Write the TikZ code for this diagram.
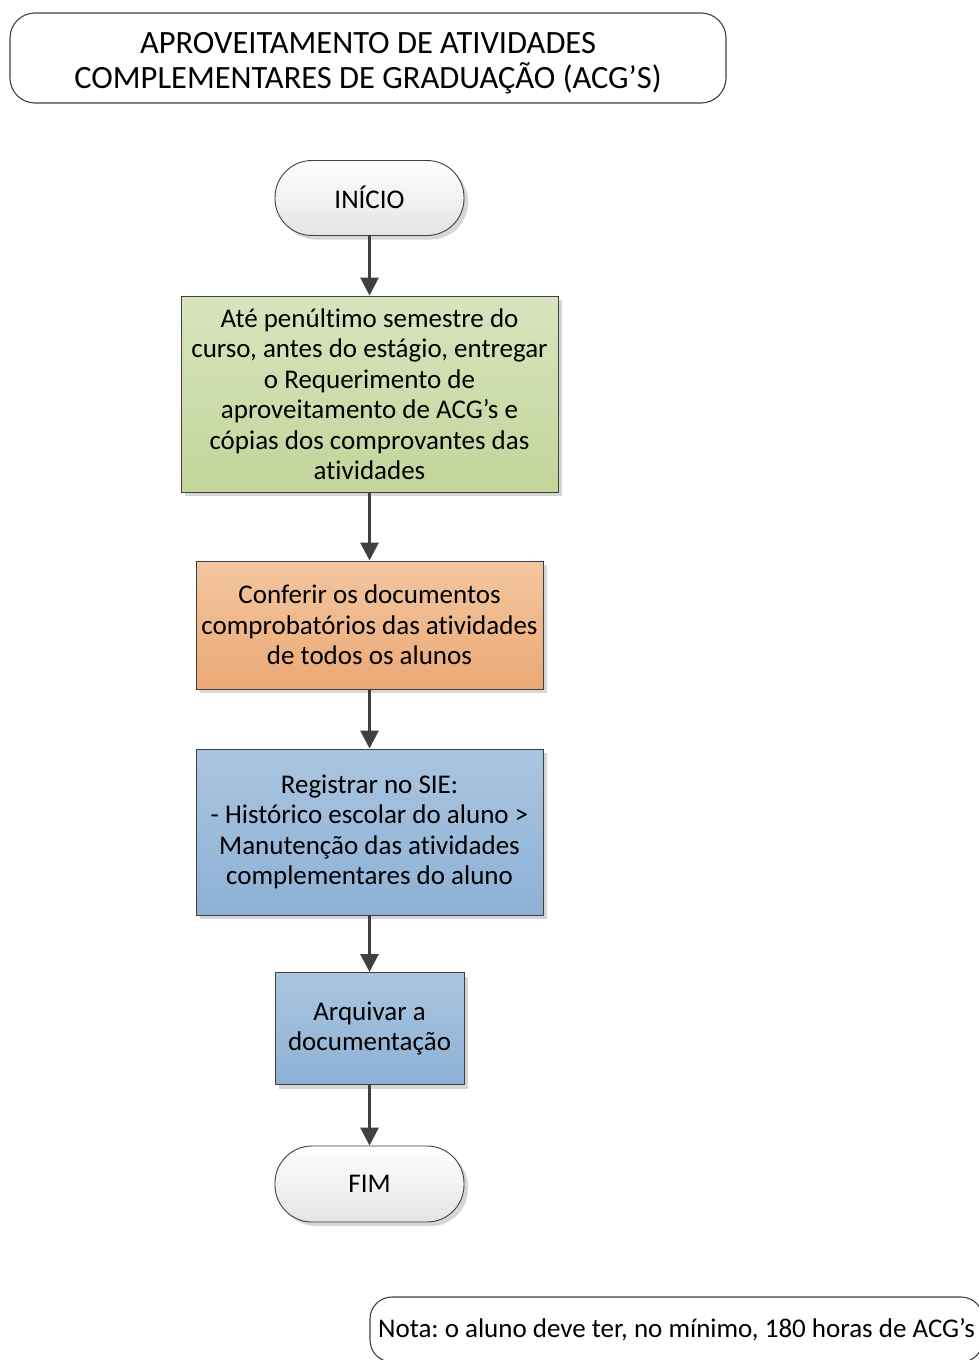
\documentclass[tikz,border=0pt]{standalone}
\usepackage{fontspec}
\setmainfont{Carlito}[Ligatures={NoCommon,NoContextual}, Contextuals=NoAlternate]
\usetikzlibrary{arrows.meta,shadows}
\frenchspacing

\definecolor{edgegray}{HTML}{404040}
\definecolor{greentop}{HTML}{D8E4BE}
\definecolor{greenbot}{HTML}{C2D59A}
\definecolor{orangetop}{HTML}{F3C6A0}
\definecolor{orangebot}{HTML}{EBA976}
\definecolor{bluetop}{HTML}{AAC5E0}
\definecolor{bluebot}{HTML}{8DB1D5}
\definecolor{termbot}{HTML}{E4E4E4}

\tikzset{
  boxtext/.style={font=\fontsize{27}{30.5}\selectfont, align=center, text=black},
  softshadow/.style={drop shadow={shadow xshift=4pt, shadow yshift=-4pt, fill=black, opacity=0.16}},
  process/.style={boxtext, draw=edgegray, line width=1pt, inner sep=0pt, softshadow},
  terminator/.style={boxtext, draw=edgegray, line width=0.9pt, inner sep=0pt,
    minimum width=189pt, rounded corners=37pt, top color=white, bottom color=termbot, softshadow},
  framebox/.style={draw=edgegray, line width=1.1pt, inner sep=0pt, fill=white},
  flowarrow/.style={draw=edgegray, line width=3pt, -{Triangle[length=18pt, width=18pt]}, shorten <=-0.5pt}
}

\begin{document}
\begin{tikzpicture}[x=1pt, y=-1pt]
  \useasboundingbox (0,0) rectangle (979,1360);
  \clip (0,0) rectangle (979,1360);
  \fill[white] (0,0) rectangle (979,1360);

  % heading
  \node[framebox, rounded corners=25pt, minimum width=716pt, minimum height=90pt,
        align=center, font=\fontsize{32.5}{35.5}\selectfont] (title) at (368,58)
    {\rule{0pt}{31pt}APROVEITAMENTO DE ATIVIDADES\\COMPLEMENTARES DE GRADUAÇÃO (ACG’S)};

  % flow
  \node[terminator, minimum height=75pt] (start) at (369.5,198) {\raisebox{2pt}{INÍCIO}};

  \node[process, minimum width=377pt, minimum height=196pt,
        top color=greentop, bottom color=greenbot] (deliver) at (369.5,394)
    {Até penúltimo semestre do\\curso, antes do estágio, entregar\\o Requerimento de\\aproveitamento de ACG’s e\\cópias dos comprovantes das\\atividades};

  \node[process, minimum width=347pt, minimum height=128pt,
        top color=orangetop, bottom color=orangebot] (check) at (369.5,625)
    {Conferir os documentos\\comprobatórios das atividades\\de todos os alunos};

  \node[process, minimum width=347pt, minimum height=166pt,
        top color=bluetop, bottom color=bluebot] (record) at (369.5,832)
    {Registrar no SIE:\\- Histórico escolar do aluno >\\Manutenção das atividades\\complementares do aluno};

  \node[process, minimum width=189pt, minimum height=112pt,
        top color=bluetop, bottom color=bluebot] (archive) at (369.5,1028.5)
    {Arquivar a\\documentação};

  \node[terminator, minimum height=76pt] (finish) at (369.5,1184) {FIM};

  \draw[flowarrow] (start.south) -- (deliver.north);
  \draw[flowarrow] (deliver.south) -- (check.north);
  \draw[flowarrow] (check.south) -- (record.north);
  \draw[flowarrow] (record.south) -- (archive.north);
  \draw[flowarrow] (archive.south) -- (finish.north);

  % note
  \node[framebox, rounded corners=22pt, minimum width=613pt, minimum height=65pt,
        boxtext] (note) at (676.5,1329.5)
    {Nota: o aluno deve ter, no mínimo, 180 horas de ACG’s};
\end{tikzpicture}
\end{document}
